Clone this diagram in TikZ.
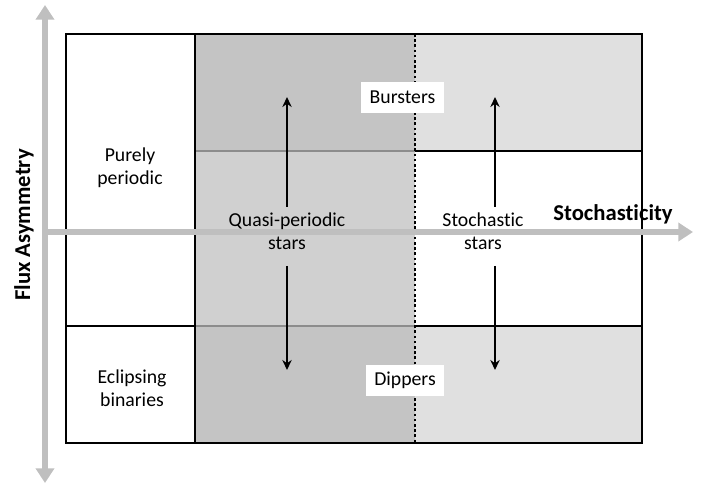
\documentclass[tikz,border=0pt]{standalone}
\usepackage{fontspec}
\setmainfont{Carlito}[Ligatures=NoCommon]
\usetikzlibrary{arrows.meta}
\definecolor{darkband}{HTML}{C4C4C4}
\definecolor{midband}{HTML}{D0D0D0}
\definecolor{lightband}{HTML}{E0E0E0}
\definecolor{axisgray}{HTML}{BFBFBF}
\definecolor{sepgray}{HTML}{8C8C8C}
\tikzset{
	axistip/.tip = {Triangle[length=11pt,width=13.5pt]},
	frame/.style = {draw=black, line width=1.9pt},
	sepline/.style = {draw=sepgray, line width=1.6pt},
	divider/.style = {draw=black, line width=1.9pt, dotted},
	axis/.style = {draw=axisgray, line width=4.5pt},
	move/.style = {draw=black, line width=1.9pt, -{Stealth[length=7.5pt,width=7pt]}},
	classlabel/.style = {align=center, inner sep=0pt, font=\fontsize{14.8}{17.5}\selectfont},
	regiontag/.style = {classlabel, fill=white, inner xsep=6.5pt, minimum height=23pt},
	axislabel/.style = {inner sep=0pt, font=\fontsize{17}{20}\selectfont\bfseries}
}
\begin{document}
\begin{tikzpicture}[x=0.75pt,y=-0.75pt]
\useasboundingbox (0,0) rectangle (703,487);
% shaded bands
\fill[darkband] (195,34) rectangle (415,443);
\fill[midband] (195,151) rectangle (415,326);
\fill[lightband] (415,34) rectangle (642,151);
\fill[lightband] (415,326) rectangle (642,443);
% boxes
\draw[sepline] (195,151) -- (415,151);
\draw[sepline] (195,326) -- (415,326);
\draw[frame] (415,151) -- (642,151);
\draw[frame] (415,326) -- (642,326);
\draw[frame] (195,34) -- (195,443);
\draw[frame] (66,326) -- (195,326);
\draw[frame] (66,34) rectangle (642,443);
\draw[divider] (415,34) -- (415,443);
% axes
\coordinate (yaxis bottom) at (45,483);
\coordinate (yaxis top) at (45,5);
\coordinate (origin) at (45,232);
\coordinate (xaxis end) at (693,232);
\draw[axis, axistip-axistip] (yaxis bottom) -- (yaxis top);
\draw[axis, -axistip] (origin) -- (xaxis end);
\node[axislabel] (xlabel) at (613,214) {Stochasticity};
\node[axislabel, rotate=90] (ylabel) at (24,225) {Flux Asymmetry};
% classes
\node[classlabel] (periodic) at (130,168) {Purely\\periodic};
\node[classlabel] (eclipsing) at (132,388) {Eclipsing\\binaries};
\node[classlabel] (quasi) at (287,231) {Quasi-periodic\\stars};
\node[classlabel] (stochastic) at (483,231) {Stochastic\\stars};
\node[regiontag] (bursters) at (402.5,97.5) {Bursters};
\node[regiontag] (dippers) at (405,380.5) {Dippers};
% drift arrows
\coordinate (quasi up) at (287,97);
\coordinate (quasi down) at (287,370);
\coordinate (stochastic up) at (495,97);
\coordinate (stochastic down) at (495,370);
\draw[move, shorten <=4pt] (quasi.north) -- (quasi up);
\draw[move, shorten <=12pt] (quasi.south) -- (quasi down);
\draw[move, shorten <=4pt] (quasi.north -| stochastic up) -- (stochastic up);
\draw[move, shorten <=12pt] (quasi.south -| stochastic down) -- (stochastic down);
\end{tikzpicture}
\end{document}
